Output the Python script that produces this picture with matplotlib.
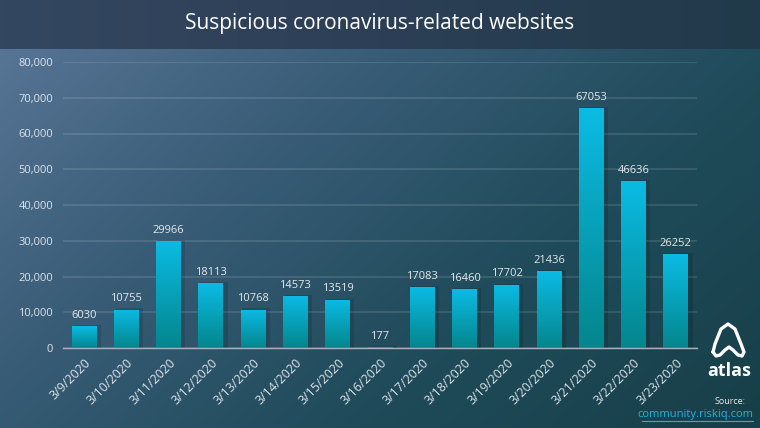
import numpy as np
import matplotlib
matplotlib.use("Agg")
import matplotlib.pyplot as plt
from matplotlib.colors import LinearSegmentedColormap
from matplotlib.patches import Rectangle
from matplotlib.lines import Line2D

dates = ["3/9/2020", "3/10/2020", "3/11/2020", "3/12/2020", "3/13/2020",
         "3/14/2020", "3/15/2020", "3/16/2020", "3/17/2020", "3/18/2020",
         "3/19/2020", "3/20/2020", "3/21/2020", "3/22/2020", "3/23/2020"]
counts = [6030, 10755, 29966, 18113, 10768, 14573, 13519, 177,
          17083, 16460, 17702, 21436, 67053, 46636, 26252]
yticks = [0, 10000, 20000, 30000, 40000, 50000, 60000, 70000, 80000]
title = "Suspicious coronavirus-related websites"

plt.rcParams['font.family'] = ['Open Sans', 'DejaVu Sans']

W, H = 760, 428
fig = plt.figure(figsize=(W / 100, H / 100), dpi=100)

# background gradient
bg = fig.add_axes([0, 0, 1, 1], zorder=0)
bg.set_axis_off()
yy, xx = np.mgrid[0:1:200j, 0:1:300j]
t = (xx * 0.6 + yy * 0.4)
bg_cmap = LinearSegmentedColormap.from_list("bg", ["#5b7899", "#3a5d78", "#1f4b5a", "#173f48"])
bg.imshow(t, cmap=bg_cmap, extent=[0, 1, 0, 1], aspect="auto", origin="upper")
# header band
hdr_cmap = LinearSegmentedColormap.from_list("hdr", ["#344760", "#2c3f56", "#213a4a"])
hx = np.linspace(0, 1, 300)[None, :]
bg.imshow(hx, cmap=hdr_cmap, extent=[0, 1, 1 - 49 / H, 1], aspect="auto")
bg.set_xlim(0, 1)
bg.set_ylim(0, 1)

fig.text(0.5, 1 - 24 / H, title, ha="center", va="center", color="white", fontsize=15)

ax = fig.add_axes([63 / W, 1 - 348 / H, 634 / W, 286 / H], zorder=1)
ax.patch.set_alpha(0)
x = np.arange(len(dates))
bars = ax.bar(x, counts, width=0.59, color="#08a5c8", zorder=3)
ax.set_xlim(-0.5, len(dates) - 0.5)
ax.set_ylim(0, 80000)

bar_cmap = LinearSegmentedColormap.from_list("bar", ["#04868d", "#0bbbe4"])
grad = np.linspace(0, 1, 100)[:, None]
for b in bars:
    x0, y0 = b.get_x(), b.get_y()
    w, h = b.get_width(), b.get_height()
    # shadow
    ax.add_patch(Rectangle((x0 + 0.04, y0), w + 0.06, h + 300, color="black",
                           alpha=0.12, zorder=2, lw=0))
    im = ax.imshow(grad, cmap=bar_cmap, extent=[x0, x0 + w, y0, y0 + h],
                   aspect="auto", origin="lower", zorder=3.5)
    im.set_clip_path(b)

for xi, v in zip(x, counts):
    ax.text(xi, v + 1500, str(v), ha="center", va="bottom", color="#e4e8ec", fontsize=8)

ax.set_yticks(yticks)
ax.set_yticklabels([f"{v:,}" for v in yticks])
ax.set_xticks(x)
ax.set_xticklabels(dates, rotation=45, ha="right", rotation_mode="anchor")
ax.tick_params(axis="both", length=0, colors="#dde3ea")
ax.tick_params(axis="y", pad=7, labelsize=8)
ax.tick_params(axis="x", pad=6, labelsize=9)
ax.grid(axis="y", color="#ffffff", alpha=0.13, lw=1.2, zorder=0)
for s in ["top", "right", "left"]:
    ax.spines[s].set_visible(False)
ax.spines["bottom"].set_color("#a7b3bc")
ax.spines["bottom"].set_linewidth(1)
ax.spines["bottom"].set_zorder(4)

# atlas logo
def fx(px):
    return px / W

def fy(py):
    return 1 - py / H

lx = [713, 715, 721, 728, 735, 741, 744, 742, 738, 733, 729, 725, 720, 716, 713]
ly = [352, 344, 329, 324, 329, 344, 352, 356, 355, 350, 347, 350, 355, 356, 352]
fig.add_artist(Line2D([fx(v) for v in lx], [fy(v) for v in ly], color="white", lw=2.4,
                      solid_joinstyle="round", solid_capstyle="round", zorder=5))
fig.text(fx(729), fy(371), "atlas", ha="center", va="center", color="white",
         fontsize=13, fontweight="bold", zorder=5)
fig.text(fx(746), fy(401), "Source:", ha="right", va="center", color="#e8ecef", fontsize=6.5)
fig.text(fx(753), fy(415), "community.riskiq.com", ha="right", va="center", color="#1fb3e6",
         fontsize=8)
fig.add_artist(Line2D([fx(642), fx(753)], [fy(421), fy(421)], color="#1fb3e6", lw=0.8))

fig.savefig("out.png", dpi=100)
